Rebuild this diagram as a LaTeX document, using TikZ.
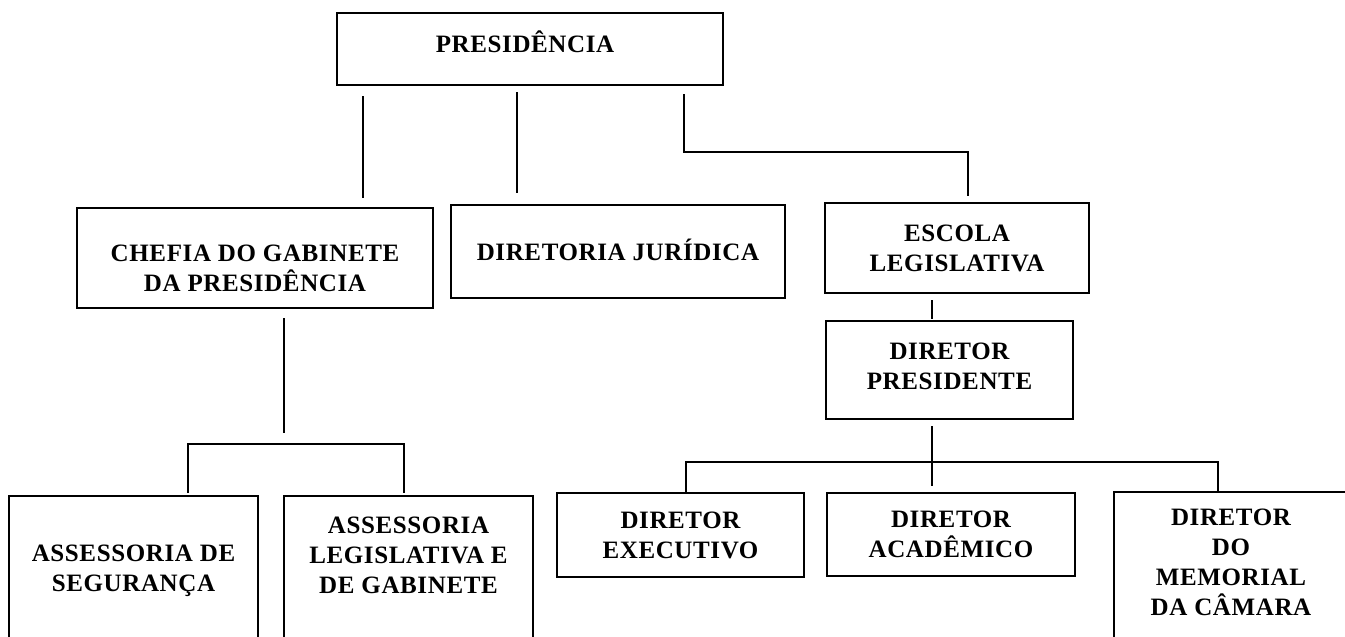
\documentclass[tikz,border=0pt]{standalone}
\usepackage{fontspec}
\setmainfont{Liberation Serif}[LetterSpace=2.5]
\tikzset{
    x={1pt},
    y={-1pt},
    unit/.style={
        draw, line width={1.5pt},
        inner sep=0pt,
        outer sep=0pt,
    },
    unit text/.style={
        font={\fontsize{25}{30}\selectfont\bfseries},
        align=center,
        inner sep=0pt,
    },
    link/.style={
        draw, line width={1.4pt},
    },
}

\begin{document}
\begin{tikzpicture}
\path[fill=white, use as bounding box] (0,0) rectangle (1345,637);
% units
\node[unit, minimum width={386}, minimum height={72}, label={[unit text, xshift=-5, yshift=7]center:PRESIDÊNCIA}] (presidencia) at (530,49) {};
\node[unit, minimum width={356}, minimum height={100}, label={[unit text, yshift=-10]center:{CHEFIA DO GABINETE\\DA PRESIDÊNCIA}}] (chefia) at (255,258) {};
\node[unit, minimum width={334}, minimum height={93}, label={[unit text, yshift=2]center:DIRETORIA JURÍDICA}] (juridica) at (618,251.5) {};
\node[unit, minimum width={264}, minimum height={90}, label={[unit text]center:{ESCOLA\\LEGISLATIVA}}] (escola) at (957,248) {};
\node[unit, minimum width={247}, minimum height={98}, label={[unit text, yshift=4]center:{DIRETOR\\PRESIDENTE}}] (presidente) at (949.5,370) {};
\node[unit, minimum width={249}, minimum height={164}, label={[unit text, yshift=7]center:{ASSESSORIA DE\\SEGURANÇA}}] (seguranca) at (133.5,578) {};
\node[unit, minimum width={249}, minimum height={164}, label={[unit text, yshift=23]center:{ASSESSORIA\\LEGISLATIVA E\\DE GABINETE}}] (legislativa) at (408.5,578) {};
\node[unit, minimum width={247}, minimum height={84}, label={[unit text]center:{DIRETOR\\EXECUTIVO}}] (executivo) at (680.5,535) {};
\node[unit, minimum width={248}, minimum height={83}, label={[unit text]center:{DIRETOR\\ACADÊMICO}}] (academico) at (951,534.5) {};
\node[unit, minimum width={266}, minimum height={168}, label={[unit text, xshift=-16, yshift=14]center:{DIRETOR\\DO\\MEMORIAL\\DA CÂMARA}}] (memorial) at (1247,576) {};
% links
\draw[link, shorten <=11, shorten >=10] (presidencia.south -| 363,0) -- (chefia.north -| 363,0);
\draw[link, shorten <=7, shorten >=12] (presidencia.south -| 517,0) -- (juridica.north -| 517,0);
\draw[link, shorten <=9, shorten >=7] (presidencia.south -| 684,0) -- ++(0,67) -| (escola.north -| 968,0);
\draw[link, shorten <=7, shorten >=2] (escola.south -| 932,0) -- (presidente.north -| 932,0);
\draw[link, shorten <=10] (chefia.south -| 284,0) -- ++(0,125);
\draw[link, shorten <=3, shorten >=3] (seguranca.north -| 188,0) -- ++(0,-52) -| (legislativa.north -| 404,0);
\draw[link, shorten <=7, shorten >=7] (presidente.south -| 932,0) -- (academico.north -| 932,0);
\draw[link] (executivo.north -| 686,0) -- ++(0,-31) -| (memorial.north -| 1218,0);
\end{tikzpicture}
\end{document}
